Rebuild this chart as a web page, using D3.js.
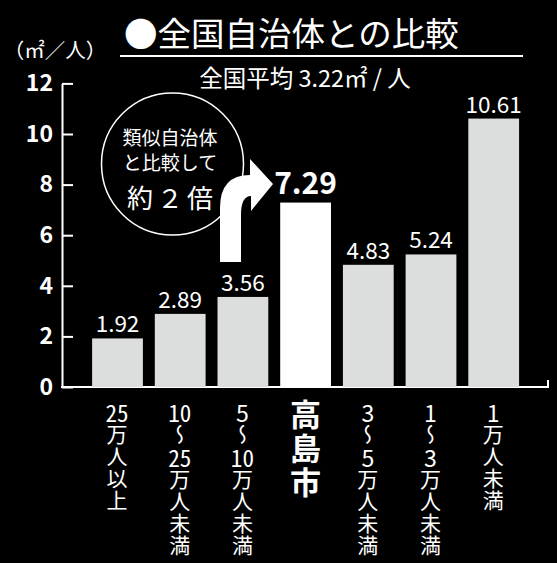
<!DOCTYPE html>
<html><head><meta charset="utf-8">
<script src="https://cdn.jsdelivr.net/npm/d3@7"></script>
<style>
html,body{margin:0;padding:0;background:#000;}
#wrap{position:relative;width:557px;height:563px;overflow:hidden;}
svg{display:block;position:absolute;left:0;top:0;}
.vlab{position:absolute;writing-mode:vertical-rl;text-orientation:mixed;color:#fff;
  font-family:'Noto Sans CJK JP','Noto Sans',sans-serif;line-height:1;white-space:nowrap;margin:0;padding:0;}
.vlab .tcy{text-combine-upright:all;font-size:1.1em;letter-spacing:0;}
</style>
</head><body><div id="wrap"><svg id="c" width="557" height="563"></svg></div>
<script>
const categories = ["25万人以上","10～25万人未満","5～10万人未満","高島市","3～5万人未満","1～3万人未満","1万人未満"];
const values = [1.92, 2.89, 3.56, 7.29, 4.83, 5.24, 10.61];
const yTicks = [0, 2, 4, 6, 8, 10, 12];
const highlight = "高島市";
const title = "●全国自治体との比較";
const subtitle = "全国平均 3.22㎡ / 人";
const unitLabel = "（㎡／人）";
const noteLines = ["類似自治体", "と比較して", "約２倍"];

const W = 557, H = 563;
const FONT = "'Noto Sans CJK JP', 'Noto Sans', sans-serif";
const svg = d3.select("#c");
svg.append("rect").attr("width", W).attr("height", H).attr("fill", "#000");

const y = d3.scaleLinear().domain([0, 12]).range([387, 83.4]);
const x = d3.scaleBand().domain(categories).range([86.15, 525.05]).paddingInner(0.19).paddingOuter(0.095);

// Title
svg.append("text").attr("x", 124).attr("y", 31).attr("dominant-baseline", "central")
  .attr("fill", "#fff").attr("font-family", FONT).attr("font-weight", 400).attr("font-size", 33.5)
  .text(title);
svg.append("line").attr("x1", 120).attr("x2", 523).attr("y1", 56).attr("y2", 56)
  .attr("stroke", "#fff").attr("stroke-width", 2);
svg.append("text").attr("x", 305).attr("y", 77).attr("dominant-baseline", "central").attr("text-anchor", "middle")
  .attr("fill", "#fff").attr("font-family", FONT).attr("font-size", 23.5).text(subtitle);
svg.append("text").attr("x", 55).attr("y", 49).attr("dominant-baseline", "central").attr("text-anchor", "middle")
  .attr("fill", "#fff").attr("font-family", FONT).attr("font-size", 20.5).text(unitLabel);

// Y axis
const yAxis = svg.append("g").attr("transform", "translate(62,0)")
  .call(d3.axisLeft(y).tickValues(yTicks).tickSizeInner(-11).tickSizeOuter(0).tickPadding(9).tickFormat(d3.format("d")));
yAxis.select(".domain").attr("stroke", "#fff").attr("stroke-width", 2);
yAxis.selectAll(".tick line").attr("stroke", "#fff").attr("stroke-width", 2);
yAxis.selectAll(".tick text").attr("fill", "#fff").attr("font-family", FONT).attr("font-weight", 700).attr("font-size", 23);

// X axis line
svg.append("path").attr("d", `M61,${y(0)}H548V${y(0) - 7}`).attr("fill", "none")
  .attr("stroke", "#fff").attr("stroke-width", 2);

// Bars
svg.append("g").selectAll("rect").data(categories).join("rect")
  .attr("x", d => x(d)).attr("width", x.bandwidth())
  .attr("y", (d, i) => y(values[i])).attr("height", (d, i) => y(0) - y(values[i]))
  .attr("fill", d => d === highlight ? "#ffffff" : "#dcdddd");

// Value labels
svg.append("g").selectAll("text").data(categories).join("text")
  .attr("x", d => x(d) + x.bandwidth() / 2)
  .attr("y", (d, i) => y(values[i]) - (d === highlight ? 9 : 6))
  .attr("text-anchor", "middle").attr("fill", "#fff").attr("font-family", FONT)
  .attr("font-weight", d => d === highlight ? 700 : 400)
  .attr("font-size", d => d === highlight ? 30 : 22.5)
  .text((d, i) => values[i].toFixed(2));

// Vertical category labels (HTML vertical writing, digits combined upright)
const wrap = d3.select("#wrap");
categories.forEach(cat => {
  const hl = cat === highlight;
  const fs = hl ? 31 : 21, step = hl ? 34 : 22, y0 = hl ? 414 : 410;
  const cx = x(cat) + x.bandwidth() / 2;
  const div = wrap.append("div").attr("class", "vlab")
    .style("font-size", fs + "px").style("font-weight", hl ? 700 : 400)
    .style("letter-spacing", (step - fs) + "px")
    .style("left", (cx - fs / 2) + "px").style("top", (y0 - fs / 2) + "px")
    .style("width", fs + "px");
  cat.match(/\d+|[^\d]+/g).forEach(seg => {
    const sp = div.append("span").text(seg);
    if (/^\d+$/.test(seg)) sp.attr("class", "tcy");
  });
});

// Annotation circle
svg.append("circle").attr("cx", 172.5).attr("cy", 164).attr("r", 71)
  .attr("fill", "none").attr("stroke", "#fff").attr("stroke-width", 1.5);
[[136, 19, 0], [161, 19, 0], [196, 26, 4]].forEach(([cy, fs, ls], i) => {
  svg.append("text").attr("x", 170 + ls / 2).attr("y", cy).attr("text-anchor", "middle").attr("dominant-baseline", "central")
    .attr("fill", "#fff").attr("font-family", FONT).attr("font-size", fs).attr("letter-spacing", ls)
    .text(noteLines[i]);
});

// Arrow
svg.append("path")
  .attr("d", "M220,262 V208 Q220,175 250,175 V159 L273,184 L251,211 V196 Q241,196 241,215 V262 Z")
  .attr("fill", "#fff");
</script></body></html>
